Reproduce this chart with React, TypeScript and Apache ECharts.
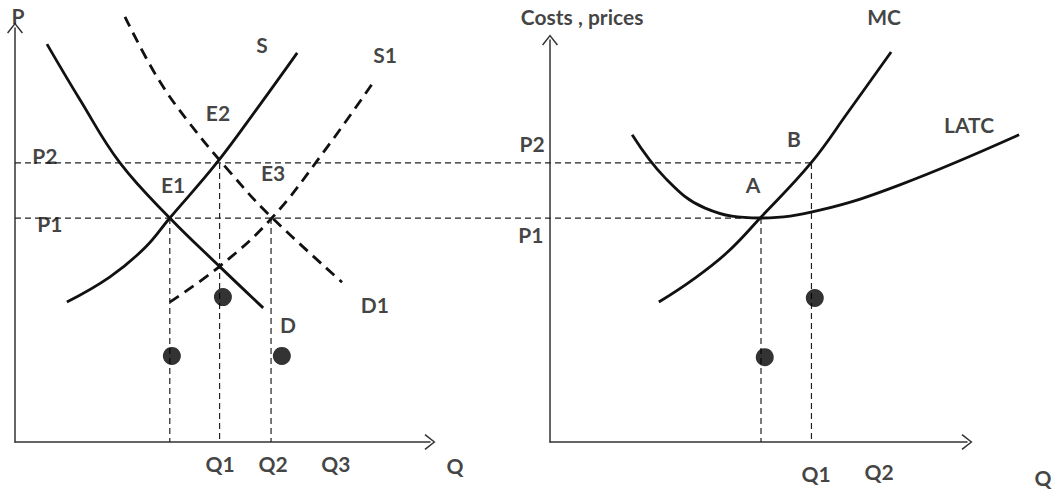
import React, { useEffect, useRef } from "react";
import * as echarts from "echarts";

// ---- Left panel (market) ----
const P1 = 5.41;
const P2 = 6.74;
const demandD = [[0.77, 9.61], [1.57, 8.26], [2.53, 6.74], [3.73, 5.41], [4.94, 4.23], [5.98, 3.24]];
const supplyS = [[1.25, 3.38], [2.29, 3.99], [3.13, 4.69], [3.73, 5.41], [4.86, 6.74], [5.86, 8.09], [6.8, 9.4]];
const demandD1 = [[2.65, 10.27], [3.42, 8.82], [4.22, 7.68], [5.18, 6.52], [6.1, 5.51], [7.88, 3.86]];
const supplyS1 = [[3.73, 3.38], [4.94, 4.25], [6.19, 5.41], [7.47, 7.05], [8.67, 8.74]];
const leftQ = [3.73, 4.93, 6.17];
const leftQPrice = [P1, P2, P1];
const leftDots = [[3.78, 2.08], [5.01, 3.5], [6.43, 2.08]];
// price guides run across both panels (units of the shared wide grid)
const priceGuideEnds = [19.18, 18.0];
const priceGuideValues = [P2, P1];
const leftLabels = [
  { name: "P", value: [0.07, 10.3] },
  { name: "S", value: [5.95, 9.59] },
  { name: "S1", value: [8.92, 9.35] },
  { name: "E2", value: [4.89, 7.95] },
  { name: "E3", value: [6.22, 6.5] },
  { name: "E1", value: [3.81, 6.21] },
  { name: "D1", value: [8.67, 3.31] },
  { name: "D", value: [6.58, 2.83] },
  { name: "P2", value: [0.72, 6.93] },
  { name: "P1", value: [0.84, 5.27] },
  { name: "Q1", value: [4.94, -0.51] },
  { name: "Q2", value: [6.22, -0.51] },
  { name: "Q3", value: [7.73, -0.51] },
  { name: "Q", value: [10.6, -0.56] },
];

// ---- Right panel (firm) ----
const latc = [[1.97, 7.42], [2.76, 6.38], [3.72, 5.65], [5.04, 5.41], [6.47, 5.6], [8.39, 6.21], [11.25, 7.42]];
const mc = [[2.61, 3.38], [3.41, 3.91], [4.24, 4.57], [5.04, 5.41], [6.26, 6.74], [7.15, 7.97], [8.18, 9.42]];
const rightQ = [5.06, 6.27];
const rightQPrice = [P1, P2];
const rightDots = [[5.15, 2.05], [6.35, 3.48]];
const rightLabels = [
  { name: "Costs , prices", value: [0.77, 10.27] },
  { name: "MC", value: [8.01, 10.27] },
  { name: "LATC", value: [10.05, 7.66] },
  { name: "B", value: [5.85, 7.34] },
  { name: "A", value: [4.87, 6.21] },
  { name: "P2", value: [-0.43, 7.2] },
  { name: "P1", value: [-0.46, 5.0] },
  { name: "Q1", value: [6.38, -0.77] },
  { name: "Q2", value: [7.89, -0.72] },
  { name: "Q", value: [11.82, -0.85] },
];

const INK = "#111";
const TEXT = "#111";
const ARROW = "path://M8,0 L16,10 L14.8,11 L8,2.2 L1.2,11 L0,10 Z";

function axis(gridIndex: number, max: number, visible: boolean) {
  return {
    type: "value", gridIndex, min: 0, max,
    axisLine: {
      show: visible,
      symbol: ["none", ARROW],
      symbolSize: [16, 11],
      lineStyle: { color: "#333", width: 1.5 },
    },
    axisTick: { show: false }, axisLabel: { show: false }, splitLine: { show: false },
  };
}

function curve(idx: number, data: number[][], dashed: boolean) {
  return {
    type: "line", xAxisIndex: idx, yAxisIndex: idx, data, smooth: 0.4,
    showSymbol: false, clip: false,
    lineStyle: { color: INK, width: 2.8, type: dashed ? [11, 7] : "solid" },
    silent: true, z: 3,
  };
}

function guide(idx: number, data: number[][]) {
  return {
    type: "line", xAxisIndex: idx, yAxisIndex: idx, data, showSymbol: false, clip: false,
    lineStyle: { color: "#222", width: 1.2, type: [6, 4] },
    silent: true, z: 2,
  };
}

function dots(idx: number, data: number[][]) {
  return {
    type: "scatter", xAxisIndex: idx, yAxisIndex: idx, data, symbolSize: 18, clip: false,
    itemStyle: { color: "#000" }, silent: true, z: 4,
  };
}

function labels(idx: number, data: any[]) {
  return {
    type: "scatter", xAxisIndex: idx, yAxisIndex: idx, data, symbolSize: 0, clip: false, silent: true, z: 5,
    label: {
      show: true, position: "inside", formatter: "{b}", color: TEXT,
      fontFamily: "Lato", fontWeight: "bold", fontSize: 21,
    },
  };
}

export default function App() {
  const ref = useRef<HTMLDivElement>(null);
  useEffect(() => {
    if (!ref.current) return;
    const chart = echarts.init(ref.current, null, { renderer: "svg" });
    const series: any[] = [
      ...priceGuideValues.map((p, i) => guide(2, [[0, p], [priceGuideEnds[i], p]])),
      ...leftQ.map((q, i) => guide(0, [[q, leftQPrice[i]], [q, 0]])),
      ...rightQ.map((q, i) => guide(3, [[q, rightQPrice[i]], [q, 0]])),
      curve(0, demandD, false),
      curve(0, supplyS, false),
      curve(0, demandD1, true),
      curve(0, supplyS1, true),
      curve(3, latc, false),
      curve(3, mc, false),
      dots(0, leftDots),
      dots(3, rightDots),
      labels(0, leftLabels),
      labels(3, rightLabels),
    ];
    chart.setOption({
      animation: false,
      backgroundColor: "#fff",
      grid: [
        { left: 15, top: 28, width: 415, height: 414 },
        { left: 550, top: 40, width: 417, height: 402 },
        { left: 15, top: 28, width: 1039, height: 414 },
        { left: 550, top: 40, width: 504, height: 402 },
      ],
      xAxis: [axis(0, 10, true), axis(1, 10, true), axis(2, 1039 / 41.5, false), axis(3, 504 / 41.7, false)],
      yAxis: [axis(0, 10, true), axis(1, 9.71, true), axis(2, 10, false), axis(3, 9.71, false)],
      series,
    });
    return () => chart.dispose();
  }, []);
  return (
    <div
      ref={ref}
      style={{ position: "fixed", left: 0, top: 0, width: 1054, height: 491, background: "#fff" }}
    />
  );
}
